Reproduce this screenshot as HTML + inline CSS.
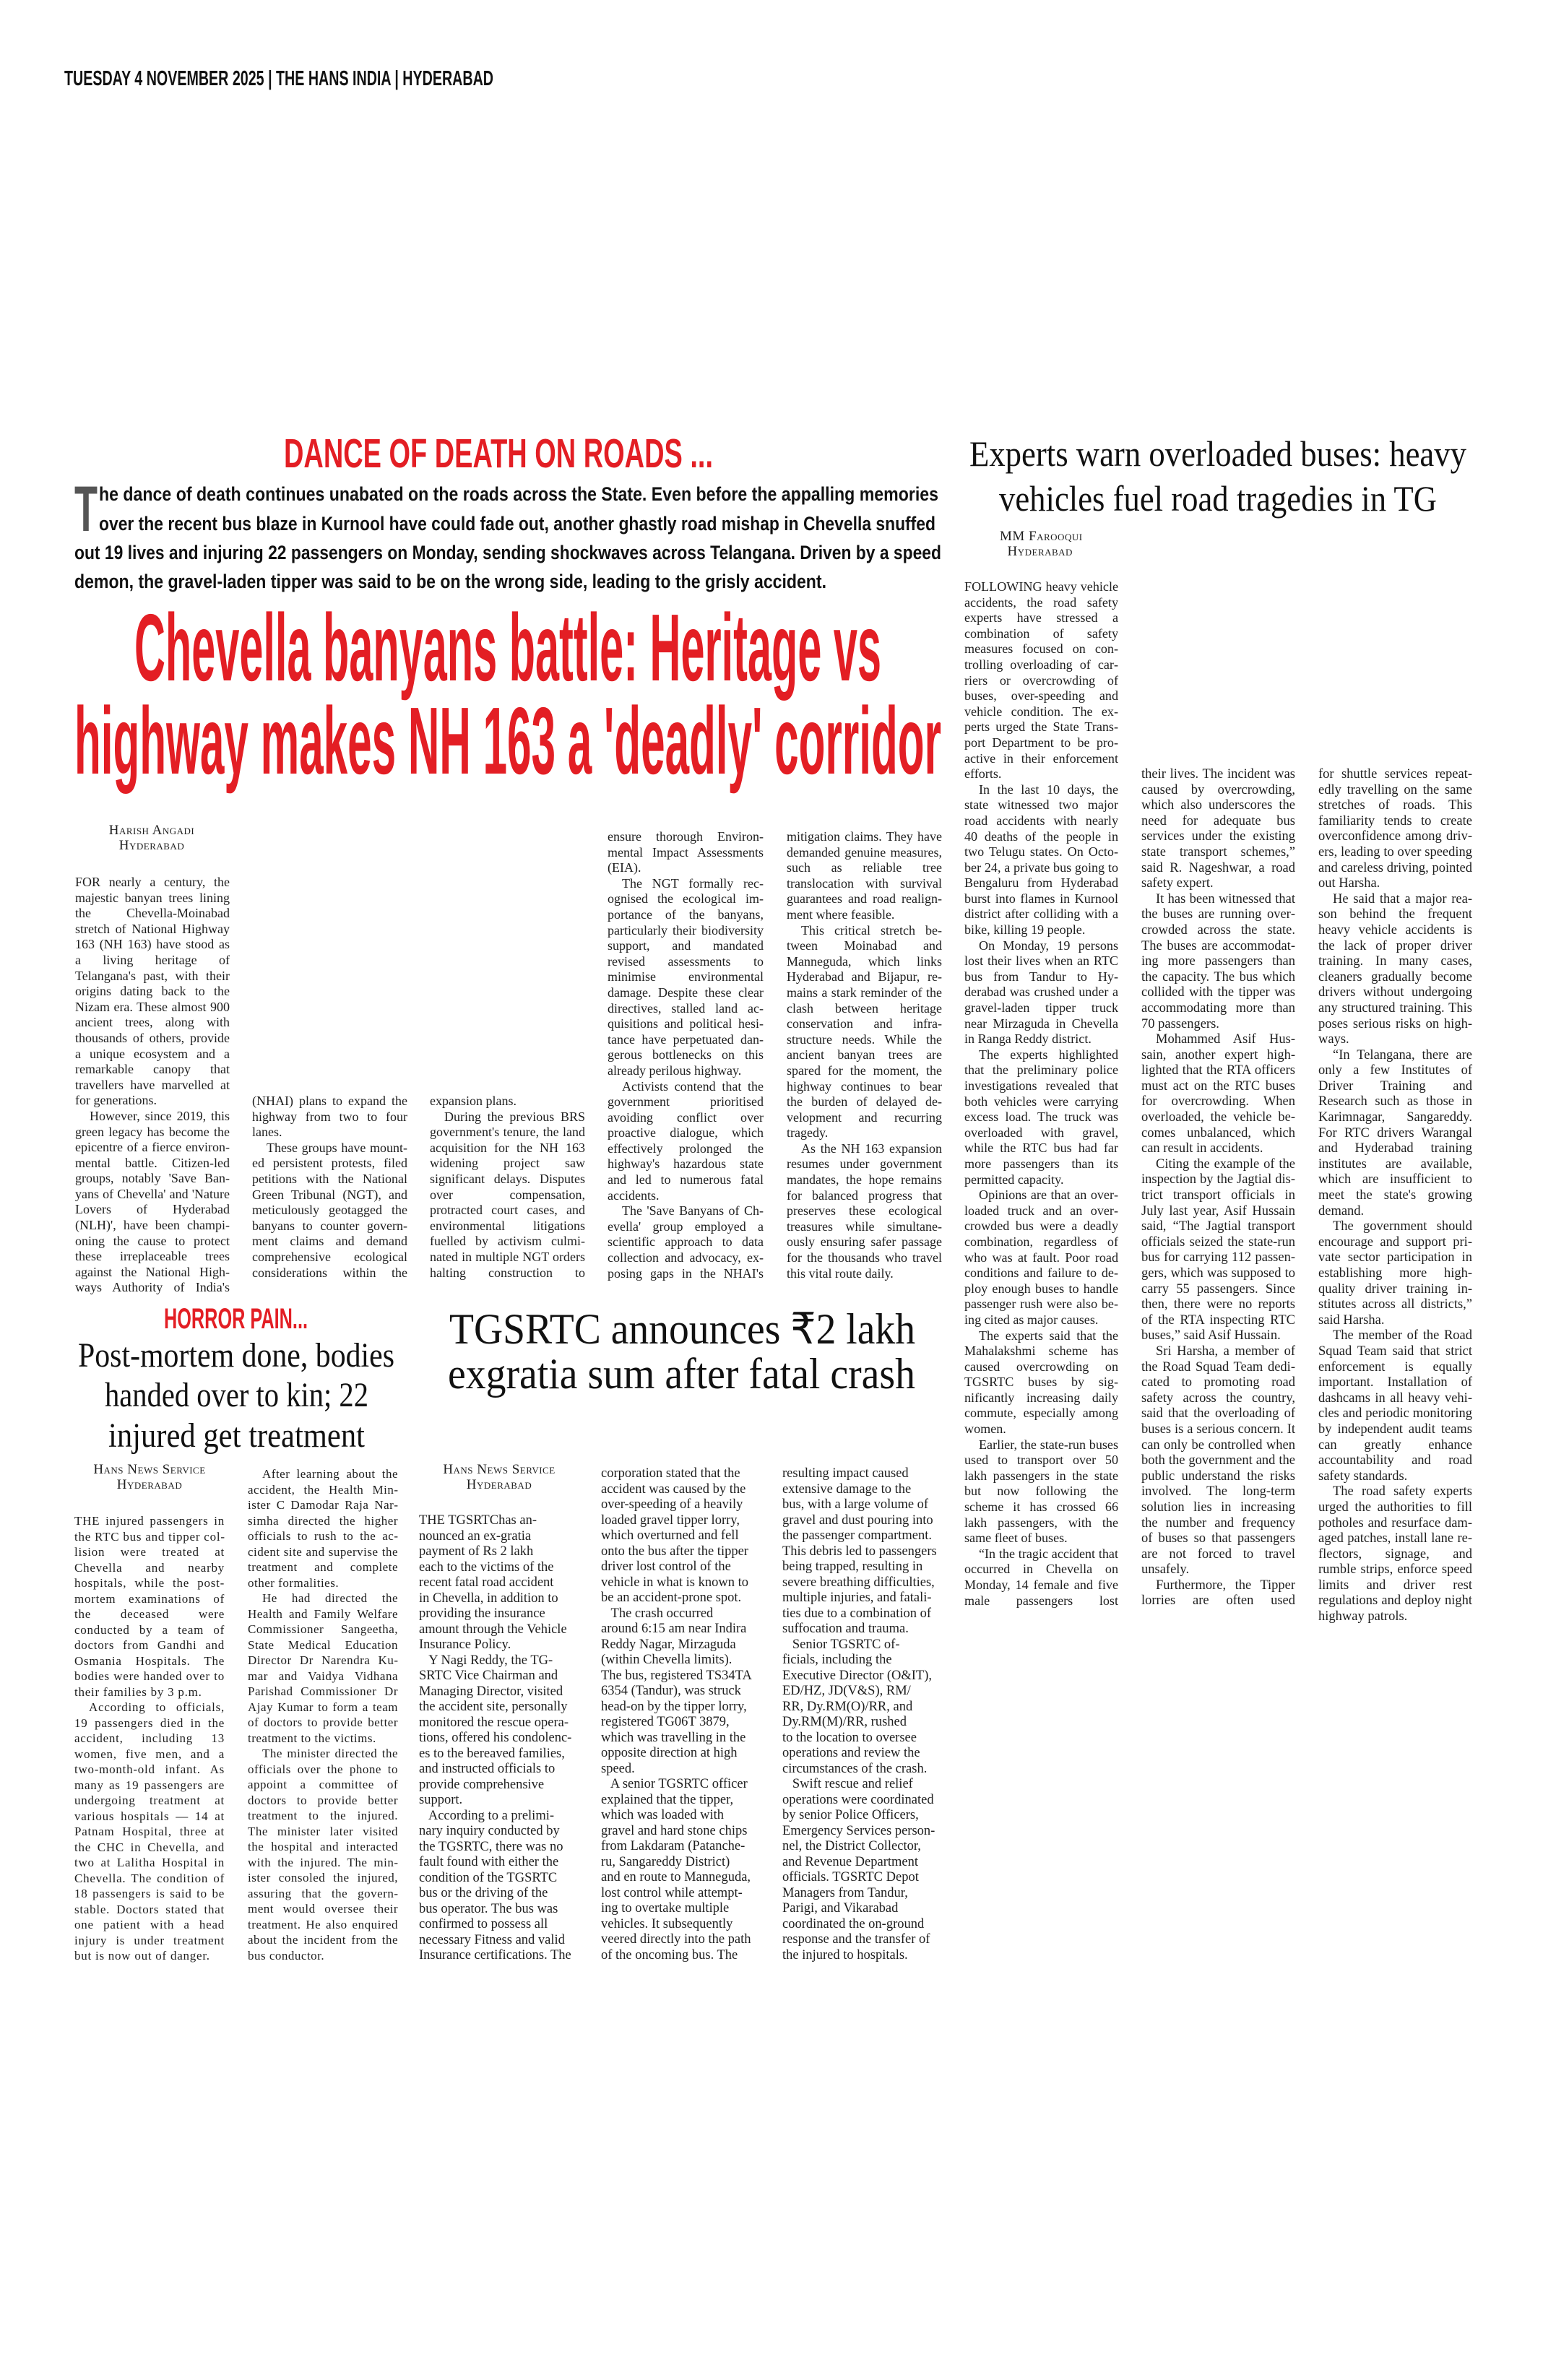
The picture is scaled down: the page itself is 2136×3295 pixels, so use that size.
<!DOCTYPE html>
<html lang="en"><head><meta charset="utf-8"><style>
html,body{margin:0;padding:0;background:#fff}
body{width:2136px;height:3295px;position:relative;overflow:hidden;font-family:"Liberation Serif",serif;color:#1e1e1e}
.col{position:absolute;font-size:18.5px;line-height:21.6px;text-align:justify;hyphens:auto;-webkit-hyphens:auto}
.col p{margin:0;text-indent:20px}
.col p.first{text-indent:0}
.col p.cont{text-align-last:justify}
.ch{font-size:18px;letter-spacing:0}
.bl{font-size:17px;letter-spacing:.5px;line-height:21.5px}
.rg{position:absolute;font-size:18.5px;line-height:21.5px;white-space:pre;text-align:left}
.by{position:absolute;font-variant:small-caps;font-size:19px;line-height:21px;text-align:center;letter-spacing:.5px}
svg{position:absolute;left:0;top:0}
</style></head><body>
<svg width="2136" height="3295" viewBox="0 0 2136 3295">
<text x="89" y="118" font-family="Liberation Sans" font-weight="bold" font-size="29" textLength="594" lengthAdjust="spacingAndGlyphs" fill="#111">TUESDAY 4 NOVEMBER 2025 | THE HANS INDIA | HYDERABAD</text>
<text x="393" y="647" font-family="Liberation Sans" font-weight="bold" font-size="57" textLength="594" lengthAdjust="spacingAndGlyphs" fill="#e31e24">DANCE OF DEATH ON ROADS ...</text>
<text x="103" y="735" font-family="Liberation Sans" font-weight="bold" font-size="89" textLength="32" lengthAdjust="spacingAndGlyphs" fill="#555">T</text>
<g font-family="Liberation Sans" font-weight="bold" font-size="27" fill="#111">
<text x="137" y="693" textLength="1162" lengthAdjust="spacingAndGlyphs">he dance of death continues unabated on the roads across the State. Even before the appalling memories</text>
<text x="137" y="734" textLength="1158" lengthAdjust="spacingAndGlyphs">over the recent bus blaze in Kurnool have could fade out, another ghastly road mishap in Chevella snuffed</text>
<text x="103" y="774" textLength="1200" lengthAdjust="spacingAndGlyphs">out 19 lives and injuring 22 passengers on Monday, sending shockwaves across Telangana. Driven by a speed</text>
<text x="103" y="814" textLength="1041" lengthAdjust="spacingAndGlyphs">demon, the gravel-laden tipper was said to be on the wrong side, leading to the grisly accident.</text>
</g>
<g font-family="Liberation Sans" font-weight="bold" font-size="132" fill="#e31e24">
<text x="186" y="942" textLength="1034" lengthAdjust="spacingAndGlyphs">Chevella banyans battle: Heritage vs</text>
<text x="103" y="1071" textLength="1200" lengthAdjust="spacingAndGlyphs">highway makes NH 163 a 'deadly' corridor</text>
</g>
<g font-family="Liberation Serif" font-size="50" fill="#111">
<text x="1342" y="645" textLength="688" lengthAdjust="spacingAndGlyphs">Experts warn overloaded buses: heavy</text>
<text x="1383" y="707" textLength="606" lengthAdjust="spacingAndGlyphs">vehicles fuel road tragedies in TG</text>
</g>
<text x="227" y="1839" font-family="Liberation Sans" font-weight="bold" font-size="40" textLength="199" lengthAdjust="spacingAndGlyphs" fill="#e31e24">HORROR PAIN...</text>
<g font-family="Liberation Serif" font-size="48" fill="#111">
<text x="108" y="1892" textLength="438" lengthAdjust="spacingAndGlyphs">Post-mortem done, bodies</text>
<text x="145" y="1947" textLength="365" lengthAdjust="spacingAndGlyphs">handed over to kin; 22</text>
<text x="150" y="2003" textLength="355" lengthAdjust="spacingAndGlyphs">injured get treatment</text>
</g>
<g font-family="Liberation Serif" font-size="60" fill="#111">
<text x="622" y="1860" textLength="645" lengthAdjust="spacingAndGlyphs">TGSRTC announces ₹2 lakh</text>
<text x="620" y="1922" textLength="647" lengthAdjust="spacingAndGlyphs">exgratia sum after fatal crash</text>
</g>
</svg>

<div class="by" style="left:110px;width:200px;top:1139px">Harish Angadi<br>Hyderabad</div>
<div class="by" style="left:1384px;top:732px;text-align:left">MM Farooqui<br>&nbsp;&nbsp;Hyderabad</div>
<div class="by" style="left:107px;width:200px;top:2024px">Hans News Service<br>Hyderabad</div>
<div class="by" style="left:591px;width:200px;top:2024px">Hans News Service<br>Hyderabad</div>

<div class="col ch" style="left:104px;width:214px;top:1211px">
<p class="first">FOR nearly a century, the majestic banyan trees lin&shy;ing the Chevella-Moinabad stretch of National Highway 163 (NH 163) have stood as a living heritage of Telangana's past, with their origins dat&shy;ing back to the Nizam era. These almost 900 ancient trees, along with thousands of others, provide a unique ecosystem and a remarkable canopy that travellers have marvelled at for generations.</p>
<p class="cont">However, since 2019, this green legacy has become the epicentre of a fierce environ&shy;mental battle. Citizen-led groups, notably 'Save Ban&shy;yans of Chevella' and 'Na&shy;ture Lovers of Hyderabad (NLH)', have been champi&shy;oning the cause to protect these irreplaceable trees against the National High&shy;ways Authority of India's</p>
</div>
<div class="col ch" style="left:349px;width:215px;top:1514px">
<p class="first">(NHAI) plans to expand the highway from two to four lanes.</p>
<p class="cont">These groups have mount&shy;ed persistent protests, filed petitions with the National Green Tribunal (NGT), and meticulously geotagged the banyans to counter govern&shy;ment claims and demand comprehensive ecological considerations within the</p>
</div>
<div class="col ch" style="left:595px;width:215px;top:1514px">
<p class="first">expansion plans.</p>
<p class="cont">During the previous BRS government's tenure, the land acquisition for the NH 163 widening project saw significant delays. Dis&shy;putes over compensation, protracted court cases, and environmental litigations fuelled by activism culmi&shy;nated in multiple NGT or&shy;ders halting construction to</p>
</div>
<div class="col ch" style="left:841px;width:216px;top:1148px">
<p class="first">ensure thorough Environ&shy;mental Impact Assessments (EIA).</p>
<p>The NGT formally rec&shy;ognised the ecological im&shy;portance of the banyans, particularly their biodi&shy;versity support, and man&shy;dated revised assessments to minimise environmental damage. Despite these clear directives, stalled land ac&shy;quisitions and political hesi&shy;tance have perpetuated dan&shy;gerous bottlenecks on this already perilous highway.</p>
<p>Activists contend that the government priori&shy;tised avoiding conflict over proactive dialogue, which effectively prolonged the highway's hazardous state and led to numerous fatal accidents.</p>
<p class="cont">The 'Save Banyans of Ch&shy;evella' group employed a scientific approach to data collection and advocacy, ex&shy;posing gaps in the NHAI's</p>
</div>
<div class="col ch" style="left:1089px;width:215px;top:1148px">
<p class="first">mitigation claims. They have demanded genuine meas&shy;ures, such as reliable tree translocation with survival guarantees and road realign&shy;ment where feasible.</p>
<p>This critical stretch be&shy;tween Moinabad and Manneguda, which links Hyderabad and Bijapur, re&shy;mains a stark reminder of the clash between heritage conservation and infra&shy;structure needs. While the ancient banyan trees are spared for the moment, the highway continues to bear the burden of delayed de&shy;velopment and recurring tragedy.</p>
<p>As the NH 163 expansion resumes under government mandates, the hope remains for balanced progress that preserves these ecological treasures while simultane&shy;ously ensuring safer passage for the thousands who travel this vital route daily.</p>
</div>

<div class="col" style="left:1335px;width:213px;top:802px;font-size:18.1px">
<p class="first">FOLLOWING heavy ve&shy;hicle accidents, the road safety experts have stressed a combination of safety measures focused on con&shy;trolling overloading of car&shy;riers or overcrowding of buses, over-speeding and vehicle condition. The ex&shy;perts urged the State Trans&shy;port Department to be pro&shy;active in their enforcement efforts.</p>
<p>In the last 10 days, the state witnessed two major road accidents with nearly 40 deaths of the people in two Telugu states. On Octo&shy;ber 24, a private bus going to Bengaluru from Hyderabad burst into flames in Kurnool district after colliding with a bike, killing 19 people.</p>
<p>On Monday, 19 persons lost their lives when an RTC bus from Tandur to Hy&shy;derabad was crushed under a gravel-laden tipper truck near Mirzaguda in Chevella in Ranga Reddy district.</p>
<p>The experts highlighted that the preliminary police investigations revealed that both vehicles were carry&shy;ing excess load. The truck was overloaded with gravel, while the RTC bus had far more passengers than its permitted capacity.</p>
<p>Opinions are that an over&shy;loaded truck and an over&shy;crowded bus were a deadly combination, regardless of who was at fault. Poor road conditions and failure to de&shy;ploy enough buses to handle passenger rush were also be&shy;ing cited as major causes.</p>
<p>The experts said that the Mahalakshmi scheme has caused overcrowding on TGSRTC buses by sig&shy;nificantly increasing daily commute, especially among women.</p>
<p>Earlier, the state-run buses used to transport over 50 lakh passengers in the state but now following the scheme it has crossed 66 lakh passengers, with the same fleet of buses.</p>
<p class="cont">“In the tragic accident that occurred in Chevella on Monday, 14 female and five male passengers lost</p>
</div>
<div class="col" style="left:1580px;width:213px;top:1062px">
<p class="first">their lives. The incident was caused by overcrowd&shy;ing, which also underscores the need for adequate bus services under the existing state transport schemes,” said R. Nageshwar, a road safety expert.</p>
<p>It has been witnessed that the buses are running over&shy;crowded across the state. The buses are accommodat&shy;ing more passengers than the capacity. The bus which collided with the tipper was accommodating more than 70 passengers.</p>
<p>Mohammed Asif Hus&shy;sain, another expert high&shy;lighted that the RTA officers must act on the RTC buses for overcrowding. When overloaded, the vehicle be&shy;comes unbalanced, which can result in accidents.</p>
<p>Citing the example of the inspection by the Jagtial dis&shy;trict transport officials in July last year, Asif Hussain said, “The Jagtial transport officials seized the state-run bus for carrying 112 passen&shy;gers, which was supposed to carry 55 passengers. Since then, there were no reports of the RTA inspecting RTC buses,” said Asif Hussain.</p>
<p>Sri Harsha, a member of the Road Squad Team dedi&shy;cated to promoting road safety across the country, said that the overloading of buses is a serious concern. It can only be controlled when both the government and the public understand the risks involved. The long-term solution lies in increasing the number and frequency of buses so that passengers are not forced to travel unsafely.</p>
<p class="cont">Furthermore, the Tip&shy;per lorries are often used</p>
</div>
<div class="col" style="left:1825px;width:213px;top:1062px">
<p class="first">for shuttle services repeat&shy;edly travelling on the same stretches of roads. This familiarity tends to create overconfidence among driv&shy;ers, leading to over speeding and careless driving, point&shy;ed out Harsha.</p>
<p>He said that a major rea&shy;son behind the frequent heavy vehicle accidents is the lack of proper driver training. In many cases, cleaners gradually become drivers without undergoing any structured training. This poses serious risks on high&shy;ways.</p>
<p>“In Telangana, there are only a few Institutes of Driv&shy;er Training and Research such as those in Karimna&shy;gar, Sangareddy. For RTC drivers Warangal and Hy&shy;derabad training institutes are available, which are in&shy;sufficient to meet the state's growing demand.</p>
<p>The government should encourage and support pri&shy;vate sector participation in establishing more high-quality driver training in&shy;stitutes across all districts,” said Harsha.</p>
<p>The member of the Road Squad Team said that strict enforcement is equally important. Installation of dashcams in all heavy vehi&shy;cles and periodic monitor&shy;ing by independent audit teams can greatly enhance accountability and road safety standards.</p>
<p>The road safety experts urged the authorities to fill potholes and resurface dam&shy;aged patches, install lane re&shy;flectors, signage, and rumble strips, enforce speed limits and driver rest regulations and deploy night highway patrols.</p>
</div>

<div class="col bl" style="left:103px;width:208px;top:2095px;letter-spacing:.75px">
<p class="first">THE injured passengers in the RTC bus and tipper col&shy;lision were treated at Chev&shy;ella and nearby hospitals, while the post-mortem ex&shy;aminations of the deceased were conducted by a team of doctors from Gandhi and Osmania Hospitals. The bodies were handed over to their families by 3 p.m.</p>
<p>According to officials, 19 passengers died in the acci&shy;dent, including 13 women, five men, and a two-month-old infant. As many as 19 passengers are undergoing treatment at various hospi&shy;tals — 14 at Patnam Hos&shy;pital, three at the CHC in Chevella, and two at Lalitha Hospital in Chevella. The condition of 18 passengers is said to be stable. Doc&shy;tors stated that one patient with a head injury is under treatment but is now out of danger.</p>
</div>
<div class="col bl" style="left:343px;width:208px;top:2030px">
<p>After learning about the accident, the Health Min&shy;ister C Damodar Raja Nar&shy;simha directed the higher officials to rush to the ac&shy;cident site and supervise the treatment and complete other formalities.</p>
<p>He had directed the Health and Family Welfare Commissioner Sangeetha, State Medical Education Director Dr Narendra Ku&shy;mar and Vaidya Vidhana Parishad Commissioner Dr Ajay Kumar to form a team of doctors to provide better treatment to the victims.</p>
<p>The minister directed the officials over the phone to appoint a committee of doctors to provide better treatment to the injured. The minister later visited the hospital and interacted with the injured. The min&shy;ister consoled the injured, assuring that the govern&shy;ment would oversee their treatment. He also enquired about the incident from the bus conductor.</p>
</div>

<div class="rg" style="left:580px;top:2095px">THE TGSRTChas an-
nounced an ex-gratia
payment of Rs 2 lakh
each to the victims of the
recent fatal road accident
in Chevella, in addition to
providing the insurance
amount through the Vehicle
Insurance Policy.
   Y Nagi Reddy, the TG-
SRTC Vice Chairman and
Managing Director, visited
the accident site, personally
monitored the rescue opera-
tions, offered his condolenc-
es to the bereaved families,
and instructed officials to
provide comprehensive
support.
   According to a prelimi-
nary inquiry conducted by
the TGSRTC, there was no
fault found with either the
condition of the TGSRTC
bus or the driving of the
bus operator. The bus was
confirmed to possess all
necessary Fitness and valid
Insurance certifications. The</div>
<div class="rg" style="left:832px;top:2030px">corporation stated that the
accident was caused by the
over-speeding of a heavily
loaded gravel tipper lorry,
which overturned and fell
onto the bus after the tipper
driver lost control of the
vehicle in what is known to
be an accident-prone spot.
   The crash occurred
around 6:15 am near Indira
Reddy Nagar, Mirzaguda
(within Chevella limits).
The bus, registered TS34TA
6354 (Tandur), was struck
head-on by the tipper lorry,
registered TG06T 3879,
which was travelling in the
opposite direction at high
speed.
   A senior TGSRTC officer
explained that the tipper,
which was loaded with
gravel and hard stone chips
from Lakdaram (Patanche-
ru, Sangareddy District)
and en route to Manneguda,
lost control while attempt-
ing to overtake multiple
vehicles. It subsequently
veered directly into the path
of the oncoming bus. The</div>
<div class="rg" style="left:1083px;top:2030px">resulting impact caused
extensive damage to the
bus, with a large volume of
gravel and dust pouring into
the passenger compartment.
This debris led to passengers
being trapped, resulting in
severe breathing difficulties,
multiple injuries, and fatali-
ties due to a combination of
suffocation and trauma.
   Senior TGSRTC of-
ficials, including the
Executive Director (O&amp;IT),
ED/HZ, JD(V&amp;S), RM/
RR, Dy.RM(O)/RR, and
Dy.RM(M)/RR, rushed
to the location to oversee
operations and review the
circumstances of the crash.
   Swift rescue and relief
operations were coordinated
by senior Police Officers,
Emergency Services person-
nel, the District Collector,
and Revenue Department
officials. TGSRTC Depot
Managers from Tandur,
Parigi, and Vikarabad
coordinated the on-ground
response and the transfer of
the injured to hospitals.</div>
</body></html>
